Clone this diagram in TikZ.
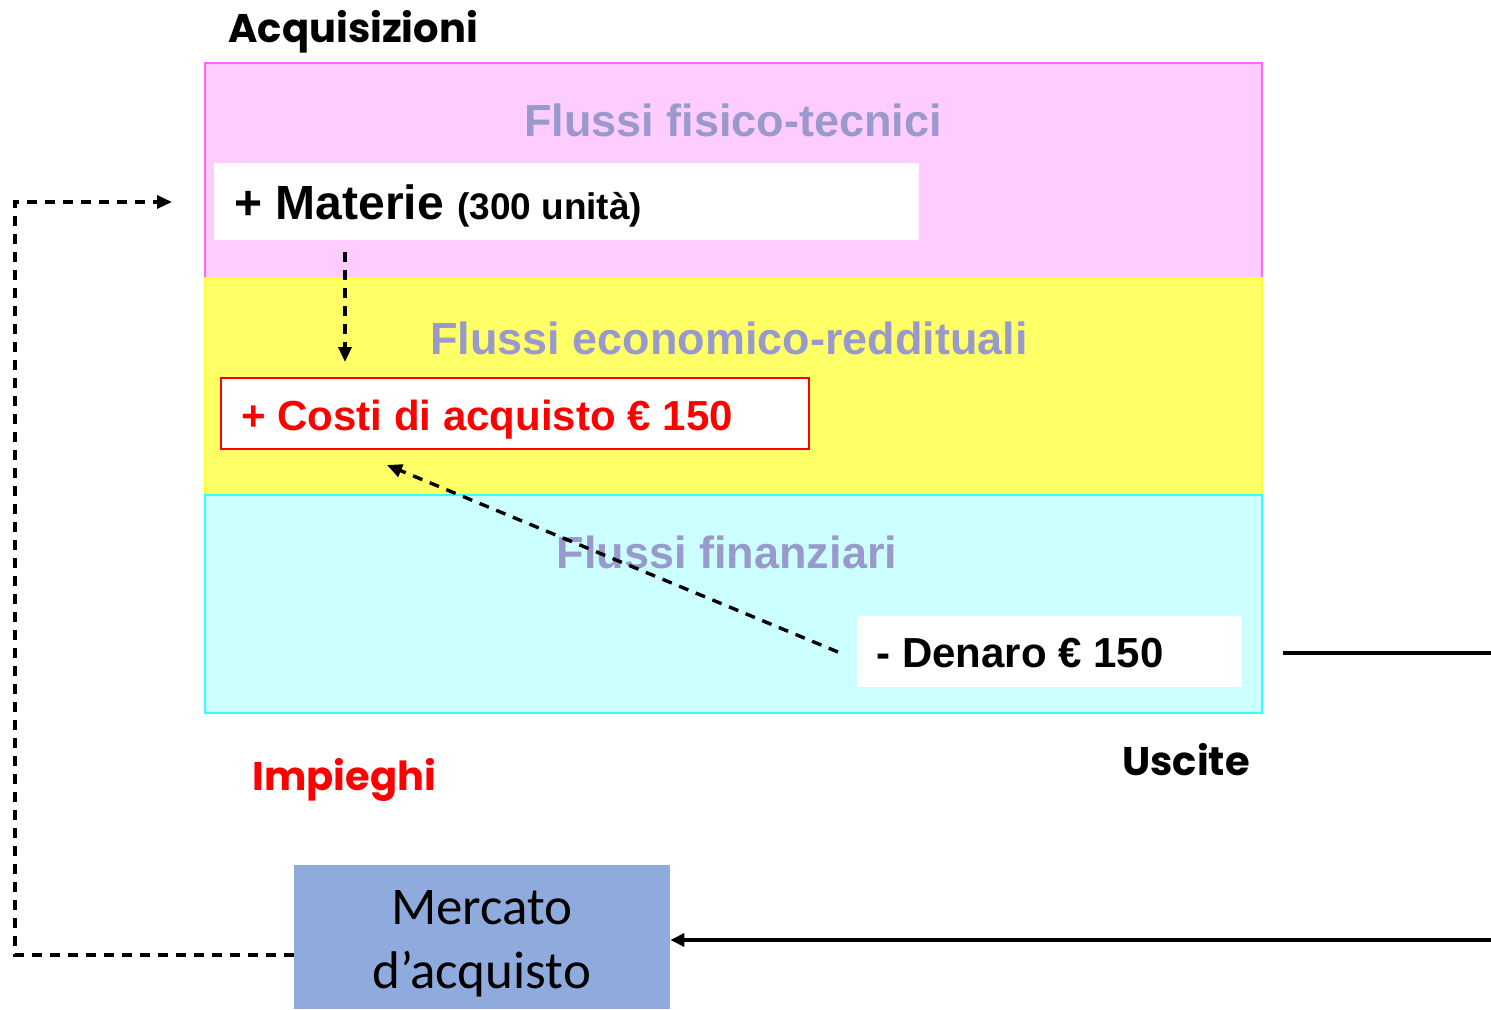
\documentclass[tikz,border=0pt]{standalone}
\usepackage{fontspec}
\setmainfont{Liberation Sans}
\newfontfamily\calibri{Carlito}
\newfontfamily\comic{Poppins}
\usepackage{tikz}
\usetikzlibrary{calc,arrows.meta}

\definecolor{pinkband}{HTML}{FFCCFF}
\definecolor{pinkedge}{HTML}{FF66FF}
\definecolor{yellowband}{HTML}{FFFF66}
\definecolor{yellowedge}{HTML}{FFFF33}
\definecolor{cyanband}{HTML}{CCFFFF}
\definecolor{cyanedge}{HTML}{33FFFF}
\definecolor{flowtitle}{HTML}{9999CC}
\definecolor{marketblue}{HTML}{8FAADC}

\tikzset{
	flowtitle/.style={color=flowtitle, font=\bfseries\fontsize{22.5}{27}\selectfont, inner sep=0, anchor=base},
	entry/.style={inner sep=0, anchor=base west, font=\bfseries\fontsize{21}{25}\selectfont},
	hand/.style={inner sep=0, anchor=base west, font=\comic\bfseries\fontsize{20}{24}\selectfont},
	dashflow/.style={line width=1.7pt, dash pattern=on 5pt off 4pt, -{Triangle[length=7.5pt,width=6.5pt]}},
	cashflow/.style={line width=1.7pt}
}

\begin{document}
\begin{tikzpicture}[x=0.5pt,y=-0.5pt]
		\useasboundingbox (0,0) rectangle (1491,1010);
		
		% bands
		\filldraw[fill=pinkband, draw=pinkedge, line width=1pt] (205,63) rectangle (1262,278);
		\filldraw[fill=yellowband, draw=yellowedge, line width=1pt] (205,278) rectangle (1262,495);
		\filldraw[fill=cyanband, draw=cyanedge, line width=1pt] (205,495) rectangle (1262,713);
		
		\node[flowtitle] (fisici) at (733,137) {Flussi fisico-tecnici};
		\node[flowtitle] (economici) at (729,354) {Flussi economico-reddituali};
		\node[flowtitle] (finanziari) at (727,568) {Flussi finanziari};
		
		% entries
		\fill[white] (214,163) rectangle (919,240);
		\filldraw[fill=white, draw=red, line width=1pt] (221,378) rectangle (809,449);
		\fill[white] (857,616) rectangle (1242,687);
		
		\node[entry] (materie) at (234,220) {\fontsize{24}{28}\selectfont + Materie {\fontsize{18.5}{22}\selectfont(300 unità)}};
		\node[entry, color=red] (costi) at (241,430) {+ Costi di acquisto € 150};
		\node[entry] (denaro) at (876,667) {- Denaro € 150};
		
		\node[hand] (acq) at (228,43) {Acquisizioni};
		\node[hand, color=red] (impieghi) at (252,790) {Impieghi};
		\node[hand] (uscite) at (1122,775) {Uscite};
		
		\node[fill=marketblue, minimum width=188pt, minimum height=72pt] (mercato) at (482,937) {};
		\node[align=center, font=\calibri\fontsize{26.5}{32}\selectfont] (mercatolabel) at (482,944) {Mercato\\d’acquisto};
		
		% connectors
		\coordinate (matout) at (345,252);
		\coordinate (costin) at (345,362);
		\coordinate (denout) at (838,652);
		\coordinate (costfrom) at (387,465);
		\coordinate (matin) at (172,202);
		\coordinate (cashout) at (1283,653);
		\coordinate (cashend) at (1491,653);
		\coordinate (payin) at (1491,940);
		
		\draw[dashflow] (matout) -- (costin);
		\draw[dashflow] (denout) -- (costfrom);
		\draw[dashflow] (mercato.west |- 0,955) -- (15,955) -- (15,202) -- (matin);
		\draw[cashflow] (cashout) -- (cashend);
		\draw[cashflow, -{Triangle[length=7pt,width=6.5pt]}] (payin) -- (mercato.east |- payin);
		
\end{tikzpicture}
\end{document}
